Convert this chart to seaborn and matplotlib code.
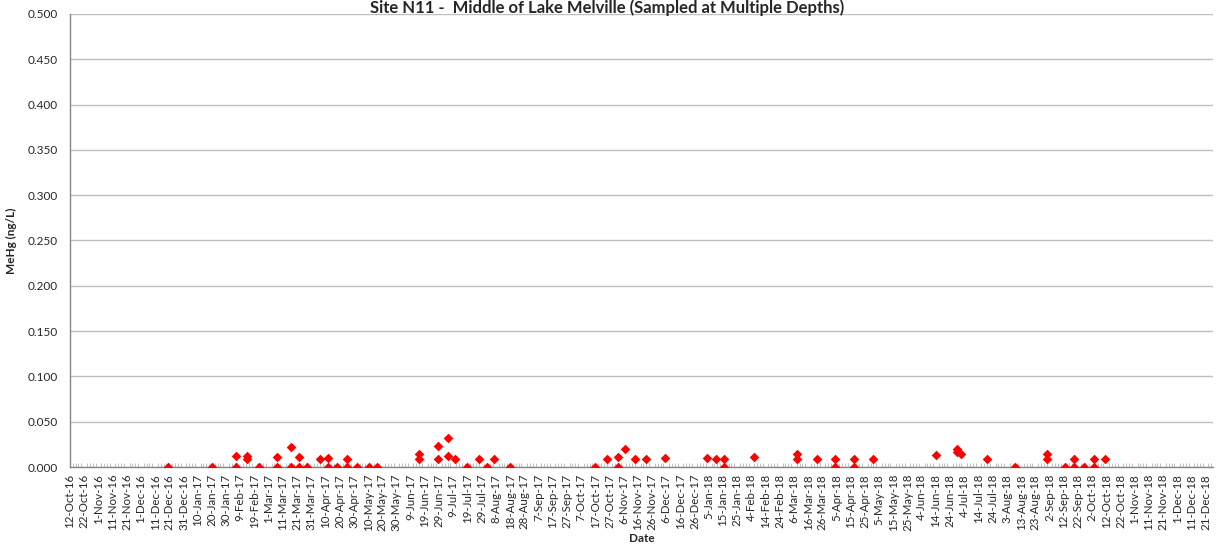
import numpy as np
import pandas as pd
import seaborn as sns
import matplotlib.pyplot as plt
import matplotlib.dates as mdates

# sample dates (some sampled at several depths -> repeated dates)
dates = [
    "2016-12-20", "2017-01-20", "2017-02-06", "2017-02-06", "2017-02-14", "2017-02-14",
    "2017-02-22", "2017-03-07", "2017-03-07", "2017-03-17", "2017-03-17", "2017-03-22",
    "2017-03-22", "2017-03-28", "2017-04-06", "2017-04-12", "2017-04-12", "2017-04-18",
    "2017-04-25", "2017-04-25", "2017-05-02", "2017-05-11", "2017-05-16", "2017-06-15",
    "2017-06-15", "2017-06-28", "2017-06-28", "2017-07-05", "2017-07-05", "2017-07-10",
    "2017-07-19", "2017-07-27", "2017-08-02", "2017-08-07", "2017-08-18", "2017-10-17",
    "2017-10-25", "2017-11-02", "2017-11-02", "2017-11-07", "2017-11-14", "2017-11-22",
    "2017-12-05", "2018-01-04", "2018-01-10", "2018-01-16", "2018-01-16", "2018-02-06",
    "2018-03-08", "2018-03-08", "2018-03-22", "2018-04-04", "2018-04-04", "2018-04-17",
    "2018-04-17", "2018-05-01", "2018-06-14", "2018-06-29", "2018-06-29", "2018-07-02",
    "2018-07-20", "2018-08-09", "2018-08-31", "2018-08-31", "2018-09-13", "2018-09-19",
    "2018-09-19", "2018-09-26", "2018-10-03", "2018-10-03", "2018-10-11",
]
mehg = [
    0.000, 0.000, 0.012, 0.000, 0.012, 0.009,
    0.000, 0.011, 0.000, 0.022, 0.000, 0.011,
    0.000, 0.000, 0.009, 0.010, 0.000, 0.000,
    0.009, 0.000, 0.000, 0.000, 0.000, 0.014,
    0.009, 0.023, 0.009, 0.032, 0.012, 0.009,
    0.000, 0.009, 0.000, 0.009, 0.000, 0.000,
    0.009, 0.011, 0.000, 0.020, 0.009, 0.009,
    0.010, 0.010, 0.009, 0.009, 0.000, 0.011,
    0.014, 0.009, 0.009, 0.009, 0.000, 0.009,
    0.000, 0.009, 0.013, 0.020, 0.017, 0.014,
    0.009, 0.000, 0.014, 0.009, 0.000, 0.009,
    0.000, 0.000, 0.009, 0.000, 0.009,
]

title = "Site N11 -  Middle of Lake Melville (Sampled at Multiple Depths)"
y_ticks = [0.0, 0.05, 0.1, 0.15, 0.2, 0.25, 0.3, 0.35, 0.4, 0.45, 0.5]

df = pd.DataFrame({"Date": pd.to_datetime(dates), "MeHg": mehg})

sns.set_style("white")
plt.rcParams['font.family'] = ['Lato', 'DejaVu Sans']

fig = plt.figure(figsize=(12.25, 5.48), dpi=100)
ax = fig.add_axes([0.0571, 0.1478, 0.9329, 0.8267])

sns.scatterplot(data=df, x="Date", y="MeHg", ax=ax, marker="D", color="#ff0000",
                s=24, edgecolor="#ff0000", linewidth=0, zorder=3)

ax.set_xlim(pd.Timestamp("2016-10-12"), pd.Timestamp("2018-12-26"))
ax.set_ylim(0, 0.5)
ax.set_yticks(y_ticks)
ax.yaxis.set_major_formatter(plt.FuncFormatter(lambda v, p: f"{v:.3f}"))
ax.grid(axis="y", color="#c0c0c0", linewidth=1)
ax.set_axisbelow(True)

major = pd.date_range("2016-10-12", "2018-12-21", freq="10D")
ax.set_xticks(major)
ax.set_xticklabels([f"{d.day}-{d.strftime('%b-%y')}" for d in major], rotation=90)
ax.xaxis.set_minor_locator(mdates.DayLocator(interval=2))
ax.tick_params(axis="x", which="major", direction="inout", length=6, width=0.8,
               color="#868686", labelsize=8.3, pad=2)
ax.tick_params(axis="x", which="minor", direction="in", length=3, width=0.5,
               color="#a8a8a8", bottom=True)
ax.tick_params(axis="y", length=0, labelsize=8.5, pad=9)

for side in ["top", "right"]:
    ax.spines[side].set_visible(False)
for side in ["left", "bottom"]:
    ax.spines[side].set_color("#868686")
    ax.spines[side].set_linewidth(1)

ax.set_xlabel("Date", fontsize=8.5, fontweight="bold", labelpad=1)
ax.set_ylabel("MeHg (ng/L)", fontsize=8.5, fontweight="bold", labelpad=7)

fig.text(0.496, 0.977, title, ha="center", va="baseline", fontsize=12, fontweight="bold")

fig.savefig("out.png", dpi=100)
